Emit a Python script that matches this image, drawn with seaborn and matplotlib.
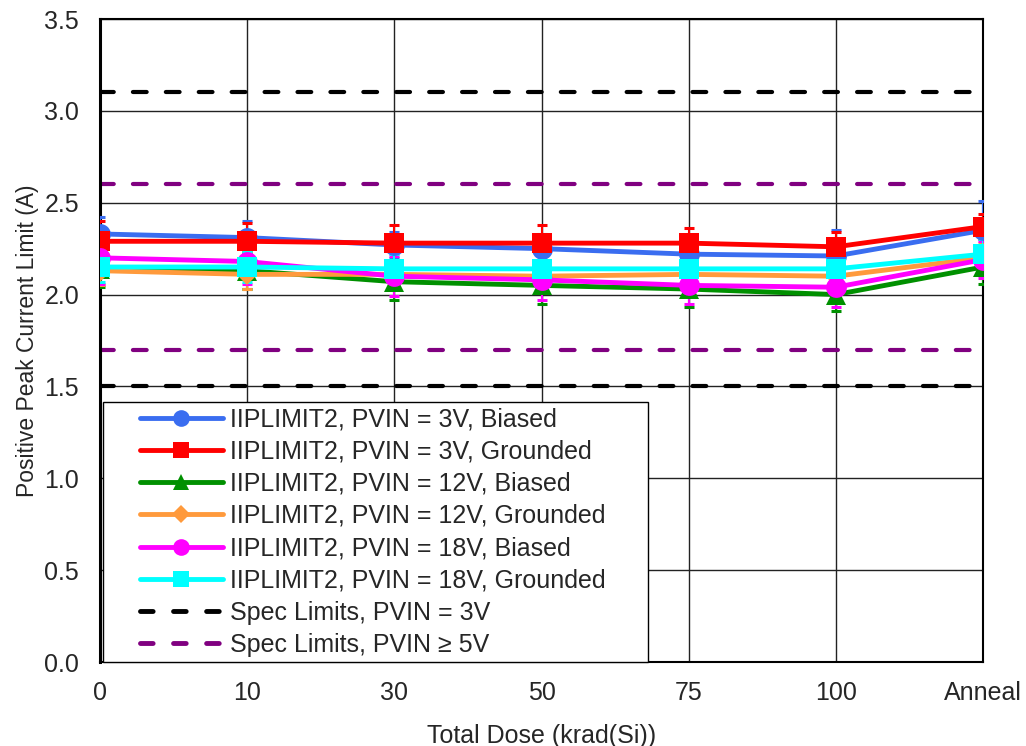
import numpy as np
import pandas as pd
import matplotlib
matplotlib.use("Agg")
import matplotlib.pyplot as plt
import seaborn as sns
from matplotlib.lines import Line2D
from matplotlib.legend_handler import HandlerLine2D

categories = ["0", "10", "30", "50", "75", "100", "Anneal"]

s3b = [2.33, 2.31, 2.27, 2.25, 2.22, 2.21, 2.35]
s3g = [2.29, 2.29, 2.28, 2.28, 2.28, 2.26, 2.37]
s12b = [2.14, 2.13, 2.07, 2.05, 2.03, 2.00, 2.15]
s12g = [2.13, 2.11, 2.11, 2.10, 2.11, 2.10, 2.20]
s18b = [2.20, 2.18, 2.10, 2.08, 2.05, 2.04, 2.19]
s18g = [2.15, 2.15, 2.14, 2.14, 2.14, 2.14, 2.22]

e3b = [0.09, 0.09, 0.07, 0.08, 0.08, 0.14, 0.16]
e3g = [0.11, 0.10, 0.10, 0.10, 0.08, 0.08, 0.07]
e12b = [0.10, 0.10, 0.10, 0.10, 0.10, 0.09, 0.09]
e12g = [0.08, 0.08, 0.08, 0.08, 0.08, 0.08, 0.08]
e18b = [0.14, 0.12, 0.11, 0.11, 0.10, 0.11, 0.10]
e18g = [0.08, 0.08, 0.08, 0.08, 0.08, 0.08, 0.08]

labels = [
    "IIPLIMIT2, PVIN = 3V, Biased",
    "IIPLIMIT2, PVIN = 3V, Grounded",
    "IIPLIMIT2, PVIN = 12V, Biased",
    "IIPLIMIT2, PVIN = 12V, Grounded",
    "IIPLIMIT2, PVIN = 18V, Biased",
    "IIPLIMIT2, PVIN = 18V, Grounded",
]
spec_3v = [1.5, 3.1]
spec_5v = [1.7, 2.6]
spec_labels = ["Spec Limits, PVIN = 3V", "Spec Limits, PVIN \u2265 5V"]

colors = ["#3A6DF0", "#FF0000", "#009000", "#FF9A3C", "#FF00FF", "#00FFFF"]
markers = ["o", "s", "^", "D", "o", "s"]
msizes = [15, 15, 14, 11, 15, 15]
leg_msizes = [12, 12, 11, 9, 12, 12]

series = [s3b, s3g, s12b, s12g, s18b, s18g]
errs = [e3b, e3g, e12b, e12g, e18b, e18g]

rows = []
for lab, vals in zip(labels, series):
    for i, v in enumerate(vals):
        rows.append({"x": i, "y": v, "series": lab})
df = pd.DataFrame(rows)

sns.set_style("white")
plt.rcParams["font.family"] = ["Liberation Sans", "DejaVu Sans"]

FS = 18

fig = plt.figure(figsize=(10.26, 7.46), dpi=100)
ax = fig.add_axes([100 / 1026, 1 - 662 / 746, 883 / 1026, (662 - 19) / 746])

dash = (0, (3.3, 4.6))
# spec limits
for v in spec_3v:
    ax.axhline(v, color="black", linestyle=dash, linewidth=3,
               dash_capstyle="round", zorder=2)
for v in spec_5v:
    ax.axhline(v, color="#800080", linestyle=dash, linewidth=3,
               dash_capstyle="round", zorder=2)

# error bars
for vals, err, c in zip(series, errs, colors):
    ax.errorbar(range(len(vals)), vals, yerr=err, fmt="none", ecolor=c,
                elinewidth=1.5, capsize=3.5, capthick=2.2, zorder=3)

for lab, c, m, ms in zip(labels, colors, markers, msizes):
    sub = df[df["series"] == lab]
    sns.lineplot(data=sub, x="x", y="y", color=c, marker=m, markersize=ms,
                 markeredgewidth=0, linewidth=3.5, ax=ax, zorder=4, legend=False)

ax.set_xlim(0, 6)
ax.set_ylim(0, 3.5)
ax.set_xticks(range(len(categories)))
ax.set_xticklabels(categories)
ax.set_yticks(np.arange(0, 3.51, 0.5))
ax.set_yticklabels([f"{t:.1f}" for t in np.arange(0, 3.51, 0.5)])
ax.tick_params(axis="both", length=0, labelsize=FS)
ax.tick_params(axis="x", pad=14)
ax.tick_params(axis="y", pad=15)
ax.grid(True, color="#222222", linewidth=1)
ax.set_axisbelow(True)
for sp in ax.spines.values():
    sp.set_color("black")
    sp.set_linewidth(1.5)
ax.spines["left"].set_linewidth(2.2)

ax.set_xlabel("Total Dose (krad(Si))", fontsize=FS, labelpad=13)
ax.set_ylabel("Positive Peak Current Limit (A)", fontsize=16.5, labelpad=4)


class OffsetHandler(HandlerLine2D):
    def __init__(self, offset, **kw):
        super().__init__(**kw)
        self.offset = offset

    def create_artists(self, legend, orig_handle, xdescent, ydescent, width,
                       height, fontsize, trans):
        return super().create_artists(legend, orig_handle,
                                      xdescent - self.offset, ydescent,
                                      width - self.offset, height, fontsize,
                                      trans)


handles = []
for c, m, ms in zip(colors, markers, leg_msizes):
    handles.append(Line2D([], [], color=c, marker=m, markersize=ms,
                          markeredgewidth=0, linewidth=3.5))
handles.append(Line2D([], [], color="black", linestyle=(0, (2.6, 4.2)),
                      linewidth=3.5, dash_capstyle="round"))
handles.append(Line2D([], [], color="#800080", linestyle=(0, (2.6, 4.2)),
                      linewidth=3.5, dash_capstyle="round"))

off_px = 31.5
off_pt = off_px * 72 / 100
hmap = {h: OffsetHandler(off_pt) for h in handles}

leg = ax.legend(handles, labels + spec_labels, loc="lower left",
                bbox_to_anchor=(3 / 883, 0.0, 545 / 883, 0.4), mode="expand",
                borderaxespad=0, fontsize=FS,
                frameon=True, fancybox=False, framealpha=1, edgecolor="black",
                handlelength=4.58, labelspacing=0.33, borderpad=0.2,
                handletextpad=0.32, handler_map=hmap)
leg.get_frame().set_linewidth(1)
leg.set_zorder(10)

fig.savefig("out.png", dpi=100)
